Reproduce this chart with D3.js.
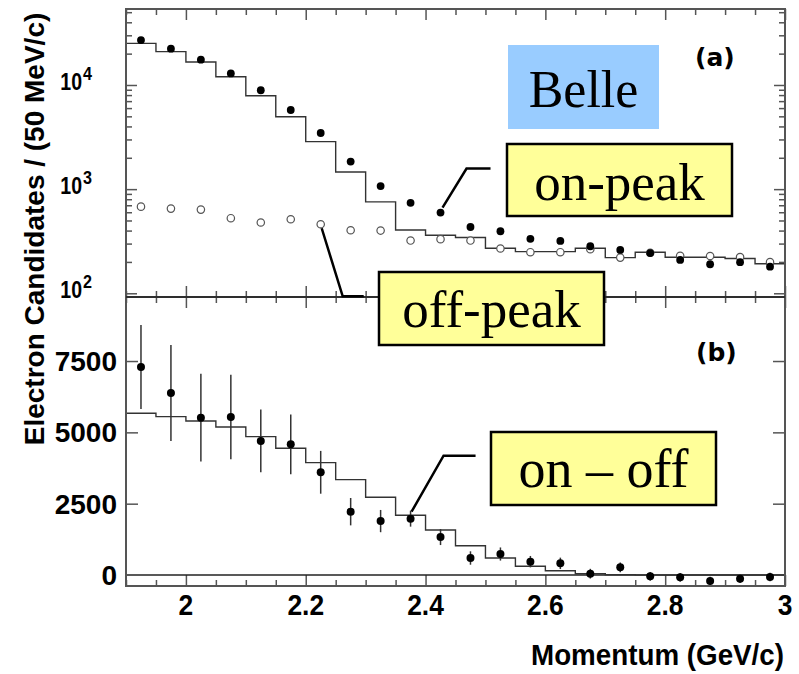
<!DOCTYPE html>
<html>
<head>
<meta charset="utf-8">
<script src="https://cdn.jsdelivr.net/npm/d3@7/dist/d3.min.js"></script>
<style>
  body { margin: 0; background: #fff; }
  svg { display: block; }
</style>
</head>
<body>
<div id="chart"></div>
<script>
// bin centres (50 MeV/c bins)
const momentum = [1.925, 1.975, 2.025, 2.075, 2.125, 2.175, 2.225, 2.275, 2.325, 2.375, 2.425,
                  2.475, 2.525, 2.575, 2.625, 2.675, 2.725, 2.775, 2.825, 2.875, 2.925, 2.975];

// panel (a): on-peak / off-peak yields and expected histogram
const onPeak  = [27000, 22300, 17500, 12900, 8900, 5750, 3460, 1840, 1070, 738, 596,
                 433, 394, 333, 318, 283, 261, 243, 209, 190, 199, 180];
const offPeak = [679, 650, 636, 526, 478, 514, 460, 403, 400, 321, 331,
                 321, 269, 248, 248, 265, 220, 245, 229, 228, 223, 199];
const expectedA = [25100, 20900, 16600, 12000, 7890, 4960, 2860, 1460, 754, 405, 361,
                   343, 271, 251, 251, 271, 220, 248, 222, 222, 216, 192];

// panel (b): on - off with errors, and signal expectation
const onMinusOff = [7290, 6380, 5515, 5540, 4700, 4580, 3600, 2220, 1890, 1975, 1330,
                    596, 736, 468, 409, 47, 269, -47, -82, -210, -129, -70];
const onMinusOffErr = [1470, 1680, 1540, 1480, 1100, 1050, 750, 480, 390, 280, 280,
                       235, 230, 200, 200, 170, 170, 150, 150, 150, 150, 150];
const expectedB = [5668, 5550, 5399, 5189, 4850, 4442, 3938, 3342, 2724, 2093, 1578,
                   1028, 596, 305, 151, 46, 10, 0, 0, 0, 0, 0];

const xTicks = [2, 2.2, 2.4, 2.6, 2.8, 3];
const logTicks = [100, 1000, 10000];
const linTicks = [0, 2500, 5000, 7500];
const binWidth = 0.05;

const W = 799, H = 674;
const svg = d3.select('#chart').append('svg')
    .attr('width', W)
    .attr('height', H);

const x = d3.scaleLinear().domain([1.9, 3.0]).range([126, 785]);
const yTop = d3.scaleLog().domain([92.1, 53660]).range([297, 9]);
const yBot = d3.scaleLinear().domain([-385, 9744]).range([586, 297]);

const frameColor = '#555';
const histColor = '#333';

// minor x ticks on every bin edge
const xMinor = momentum.map(m => m - binWidth / 2).concat([3.0])
    .filter(v => !xTicks.some(t => Math.abs(t - v) < 1e-6));

function tickAxis(axis, tx, ty) {
    svg.append('g')
        .attr('transform', `translate(${tx},${ty})`)
        .call(axis)
        .call(g => g.select('.domain').remove())
        .call(g => g.selectAll('.tick line').attr('stroke', frameColor).attr('stroke-width', 1.5))
        .call(g => g.selectAll('.tick text').remove());
}

// x ticks on both panels, both edges, pointing inward
[[d3.axisBottom, 9], [d3.axisTop, 297], [d3.axisBottom, 297], [d3.axisTop, 586]].forEach(([ax, ty]) => {
    tickAxis(ax(x).tickValues(xTicks).tickSize(11), 0, ty);
    tickAxis(ax(x).tickValues(xMinor).tickSize(6), 0, ty);
});

// y ticks, panel (a) log
const logMinor = yTop.ticks().filter(v => !logTicks.includes(v));
tickAxis(d3.axisRight(yTop).tickValues(logTicks).tickSize(11), 126, 0);
tickAxis(d3.axisRight(yTop).tickValues(logMinor).tickSize(6), 126, 0);
tickAxis(d3.axisLeft(yTop).tickValues(logTicks).tickSize(11), 785, 0);
tickAxis(d3.axisLeft(yTop).tickValues(logMinor).tickSize(6), 785, 0);

// y ticks, panel (b) linear
tickAxis(d3.axisRight(yBot).tickValues(linTicks.filter(v => v !== 0)).tickSize(12), 126, 0);
tickAxis(d3.axisLeft(yBot).tickValues(linTicks.filter(v => v !== 0)).tickSize(12), 785, 0);

// zero line in panel (b)
svg.append('line')
    .attr('x1', x(1.9)).attr('x2', x(3.0))
    .attr('y1', yBot(0)).attr('y2', yBot(0))
    .attr('stroke', '#222')
    .attr('stroke-width', 1.5);

// step histograms
function stepPoints(values) {
    const pts = momentum.map((m, i) => [m - binWidth / 2, values[i]]);
    pts.push([momentum[momentum.length - 1] + binWidth / 2, values[values.length - 1]]);
    return pts;
}

svg.append('path')
    .datum(stepPoints(expectedA))
    .attr('d', d3.line().x(d => x(d[0])).y(d => yTop(d[1])).curve(d3.curveStepAfter))
    .attr('fill', 'none')
    .attr('stroke', histColor)
    .attr('stroke-width', 1.4);

svg.append('path')
    .datum(stepPoints(expectedB))
    .attr('d', d3.line().x(d => x(d[0])).y(d => yBot(d[1])).curve(d3.curveStepAfter))
    .attr('fill', 'none')
    .attr('stroke', histColor)
    .attr('stroke-width', 1.4);

// off-peak open circles
svg.append('g').selectAll('circle')
    .data(offPeak)
    .join('circle')
    .attr('cx', (d, i) => x(momentum[i]))
    .attr('cy', d => yTop(d))
    .attr('r', 3.7)
    .attr('fill', '#fff')
    .attr('stroke', '#555')
    .attr('stroke-width', 1.2);

// on-peak filled circles
svg.append('g').selectAll('circle')
    .data(onPeak)
    .join('circle')
    .attr('cx', (d, i) => x(momentum[i]))
    .attr('cy', d => yTop(d))
    .attr('r', 3.9)
    .attr('fill', '#000');

// on - off error bars + points
svg.append('g').selectAll('line')
    .data(onMinusOff)
    .join('line')
    .attr('x1', (d, i) => x(momentum[i]))
    .attr('x2', (d, i) => x(momentum[i]))
    .attr('y1', (d, i) => yBot(d - onMinusOffErr[i]))
    .attr('y2', (d, i) => yBot(d + onMinusOffErr[i]))
    .attr('stroke', '#333')
    .attr('stroke-width', 1.5);

svg.append('g').selectAll('circle')
    .data(onMinusOff)
    .join('circle')
    .attr('cx', (d, i) => x(momentum[i]))
    .attr('cy', d => yBot(d))
    .attr('r', 4)
    .attr('fill', '#000');

// frames
svg.append('rect')
    .attr('x', x(1.9)).attr('y', yTop.range()[1])
    .attr('width', x(3.0) - x(1.9)).attr('height', yTop.range()[0] - yTop.range()[1])
    .attr('fill', 'none').attr('stroke', frameColor).attr('stroke-width', 2);
svg.append('rect')
    .attr('x', x(1.9)).attr('y', yBot.range()[1])
    .attr('width', x(3.0) - x(1.9)).attr('height', yBot.range()[0] - yBot.range()[1])
    .attr('fill', 'none').attr('stroke', frameColor).attr('stroke-width', 2);
svg.append('line')
    .attr('x1', x(1.9)).attr('x2', x(3.0))
    .attr('y1', 297).attr('y2', 297)
    .attr('stroke', '#222').attr('stroke-width', 1.5);

// tick labels
const sans = 'Liberation Sans, Arial, Helvetica, sans-serif';

// x labels are a bit condensed in the original
svg.append('g').selectAll('text')
    .data(xTicks)
    .join('text')
    .attr('transform', d => `translate(${x(d)},615) scale(0.88,1)`)
    .attr('text-anchor', 'middle')
    .attr('font-family', sans)
    .attr('font-weight', 'bold')
    .attr('font-size', 30)
    .text(d => d3.format('')(d));

svg.append('g').selectAll('text')
    .data(linTicks)
    .join('text')
    .attr('x', 117)
    .attr('y', d => yBot(d) + 10)
    .attr('text-anchor', 'end')
    .attr('font-family', sans)
    .attr('font-weight', 'bold')
    .attr('font-size', 28)
    .text(d => d);

const logLabels = svg.append('g').selectAll('g')
    .data(logTicks)
    .join('g')
    .attr('transform', d => `translate(0,${yTop(d)})`);
logLabels.append('text')
    .attr('transform', 'translate(82,5) scale(0.85,1)')
    .attr('text-anchor', 'end')
    .attr('font-family', sans)
    .attr('font-weight', 'bold')
    .attr('font-size', 23)
    .text('10');
logLabels.append('text')
    .attr('transform', 'translate(83,-5) scale(0.85,1)')
    .attr('font-family', sans)
    .attr('font-weight', 'bold')
    .attr('font-size', 19)
    .text(d => Math.round(Math.log10(d)));

// axis titles
svg.append('text')
    .attr('transform', 'translate(44,229) rotate(-90)')
    .attr('text-anchor', 'middle')
    .attr('font-family', sans)
    .attr('font-weight', 'bold')
    .attr('font-size', 28)
    .text('Electron Candidates / (50 MeV/c)');

svg.append('text')
    .attr('x', 531)
    .attr('y', 665)
    .attr('font-family', sans)
    .attr('font-weight', 'bold')
    .attr('font-size', 29)
    .attr('textLength', 253)
    .attr('lengthAdjust', 'spacingAndGlyphs')
    .text('Momentum (GeV/c)');

// panel tags
svg.append('text')
    .attr('x', 695).attr('y', 66)
    .attr('font-family', 'DejaVu Sans, Verdana, sans-serif')
    .attr('font-weight', 'bold')
    .attr('font-size', 25)
    .text('(a)');
svg.append('text')
    .attr('x', 696).attr('y', 361)
    .attr('font-family', 'DejaVu Sans, Verdana, sans-serif')
    .attr('font-weight', 'bold')
    .attr('font-size', 25)
    .text('(b)');

// pointer lines from data points to their labels
const serif = 'Liberation Serif, Times New Roman, Times, serif';
function pointer(px, py, offsets) {
    const pts = offsets.map(([dx, dy]) => [px + dx, py + dy]);
    svg.append('path')
        .attr('d', d3.line()(pts))
        .attr('fill', 'none')
        .attr('stroke', '#000')
        .attr('stroke-width', 2.5);
}
pointer(x(momentum[10]), yTop(onPeak[10]), [[2, -5], [26, -44], [50, -44]]);
pointer(x(momentum[6]), yTop(offPeak[6]), [[1, 4], [22, 72], [43, 72]]);
pointer(x(momentum[9]), yBot(onMinusOff[9]), [[1, -7], [33, -63], [65, -63]]);

function labelBox(x0, y0, w, h, fill, border, text, size, baseline) {
    svg.append('rect')
        .attr('x', x0).attr('y', y0)
        .attr('width', w).attr('height', h)
        .attr('fill', fill)
        .attr('stroke', border ? '#000' : 'none')
        .attr('stroke-width', 2.5);
    svg.append('text')
        .attr('x', x0 + w / 2)
        .attr('y', baseline)
        .attr('text-anchor', 'middle')
        .attr('font-family', serif)
        .attr('font-size', size)
        .text(text);
}
labelBox(508, 45, 151, 84, '#99ccff', false, 'Belle', 52, 107);
labelBox(507, 144, 225, 72, '#ffff99', true, 'on-peak', 53, 200);
labelBox(379, 272, 225, 73, '#ffff99', true, 'off-peak', 53, 327);
labelBox(491, 432, 225, 73, '#ffff99', true, 'on \u2013 off', 54, 487);
</script>
</body>
</html>
